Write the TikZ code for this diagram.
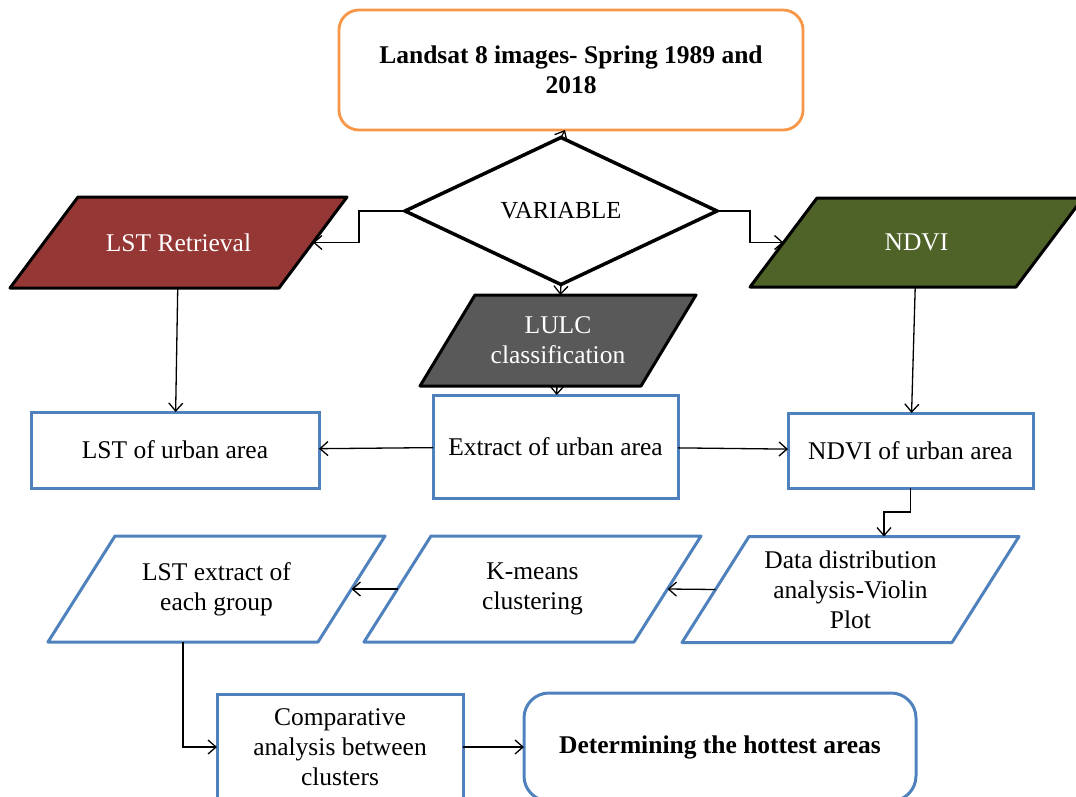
\documentclass[tikz,border=0pt]{standalone}
\usepackage{fontspec}
\setmainfont{Liberation Serif}
\usetikzlibrary{shapes.geometric,arrows.meta,backgrounds}
\definecolor{borange}{HTML}{F79646}
\definecolor{bblue}{HTML}{4F81BD}
\definecolor{dred}{HTML}{953735}
\definecolor{dgreen}{HTML}{4F6228}
\definecolor{dgrey}{HTML}{595959}
\tikzset{
  txt/.style={font=\fontsize{25.5}{30}\selectfont, align=center, inner sep=0pt, outer sep=0pt},
  body/.style n args={2}{txt, rectangle, minimum width=#1, minimum height=#2},
  darkpara/.style={draw=black, line width=3pt, line join=round},
  bluepara/.style={draw=bblue, line width=3pt, line join=round},
  bluebox/.style={txt, draw=bblue, line width=3pt, rectangle},
  conn/.style={line width=1.3pt, -{Straight Barb[length=8pt,width=14pt]}}
}
% #1 node name, #2 half horizontal offset of the slant, #3 style
\newcommand\paraoutline[3]{%
  \path[#3] ([xshift=-#2]#1.south west) -- ([xshift=#2]#1.north west)
    -- ([xshift=#2]#1.north east) -- ([xshift=-#2]#1.south east) -- cycle;}
\begin{document}
\begin{tikzpicture}[x=1pt,y=-1pt]
\useasboundingbox (0,0) rectangle (1076,797);
\clip (0,0) rectangle (1076,797);
% top
\node[txt, draw=borange, line width=2.8pt, rounded corners=20pt, minimum width=464pt, minimum height=120pt, font=\fontsize{25.5}{30}\selectfont\bfseries]
  (land) at (571,70) {Landsat 8 images- Spring 1989 and\\2018};
\node[txt, shape=diamond, draw=black, line width=3.5pt, aspect=2.12, minimum width=312pt, minimum height=147pt, font=\fontsize{24.5}{30}\selectfont]
  (dia) at (561,211) {VARIABLE};
% coloured parallelograms (text bodies)
\node[body={269pt}{91pt}, text=white] (lstr) at (178.5,242.5) {LST Retrieval};
\node[body={266pt}{89pt}, text=white] (ndvi) at (916.5,242.5) {NDVI};
\node[body={221pt}{91pt}, text=white] (lulc) at (558,340.5) {LULC\\classification};
% urban boxes
\node[bluebox, minimum width=288pt, minimum height=76pt] (lstu) at (175,450) {LST of urban area};
\node[bluebox, minimum width=245pt, minimum height=103pt] (ext) at (555.5,446.5) {Extract of urban area};
\node[bluebox, minimum width=245pt, minimum height=75pt] (ndviu) at (910.5,450.5) {NDVI of urban area};
% analysis parallelograms (text bodies)
\node[body={270pt}{106pt}] (lstx) at (216.5,589) {LST extract of\\each group};
\node[body={270pt}{106pt}] (km) at (532.5,589) {K-means\\clustering};
\node[body={270pt}{106pt}] (data) at (850.5,589.5) {Data distribution\\analysis-Violin\\Plot};
% bottom
\node[bluebox, minimum width=246pt, minimum height=106pt] (comp) at (340,747) {Comparative\\analysis between\\clusters};
\node[txt, draw=bblue, line width=3pt, rounded corners=25pt, minimum width=392pt, minimum height=108pt, font=\fontsize{25.5}{30}\selectfont\bfseries]
  (det) at (720,747) {Determining the hottest areas};
% parallelogram outlines behind the texts
\begin{pgfonlayer}{background}
\paraoutline{lstr}{34pt}{darkpara, fill=dred}
\paraoutline{ndvi}{33.5pt}{darkpara, fill=dgreen}
\paraoutline{lulc}{27.5pt}{darkpara, fill=dgrey}
\paraoutline{lstx}{33.5pt}{bluepara}
\paraoutline{km}{33.5pt}{bluepara}
\paraoutline{data}{33.5pt}{bluepara}
\end{pgfonlayer}
% connectors
\draw[conn] (dia.north) -- ([xshift=-6pt]land.south);
\draw[conn] (dia.west) -- ++(-46,0) |- (lstr.east);
\draw[conn] (dia.east) -- ++(33,0) |- (ndvi.west);
\draw[conn] (dia.south) -- (lulc);
\draw[conn] (lstr) -- (lstu);
\draw[conn] (ndvi) -- (ndviu);
\draw[conn] (lulc) -- (ext);
\draw[conn] (ext) -- (lstu);
\draw[conn] (ext) -- (ndviu);
\draw[conn] (ndviu.south) -- ++(0,24) -| ([xshift=33.5pt]data.north);
\draw[conn] (data.west) -- (km.east);
\draw[conn] (km.west) -- (lstx.east);
\draw[conn] ([xshift=-33.5pt]lstx.south) |- (comp.west);
\draw[conn] (comp.east) -- (det.west);
\end{tikzpicture}
\end{document}
